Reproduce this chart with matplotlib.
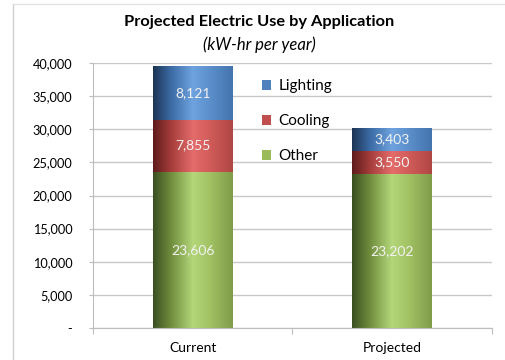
import numpy as np
import matplotlib.pyplot as plt
from matplotlib.colors import LinearSegmentedColormap
from matplotlib.patches import Patch

plt.rcParams['font.family'] = ['Lato', 'DejaVu Sans']

# stacked usage per scenario (kW-hr per year)
categories = ['Current', 'Projected']
other = [23606, 23202]
cooling = [7855, 3550]
lighting = [8121, 3403]

series = [('Other', other), ('Cooling', cooling), ('Lighting', lighting)]

# dark edge -> highlight -> mid tone, like a shaded cylinder
shades = {
    'Other':    ['#3a4f22', '#6f8c3c', '#b4d77a', '#a3c365', '#7f9c4a'],
    'Cooling':  ['#5e1b1b', '#a33c3a', '#e46c6a', '#d25d5a', '#b04644'],
    'Lighting': ['#1c3454', '#3b6aa3', '#6ea3df', '#5d90cc', '#4474ad'],
}
legend_col = {'Other': '#9bbb59', 'Cooling': '#c0504d', 'Lighting': '#4f81bd'}

fig = plt.figure(figsize=(5.06, 3.6), dpi=100)
ax = fig.add_axes([93 / 506, 1 - 328 / 360, (492 - 93) / 506, (328 - 63) / 360])

x = np.arange(len(categories))
width = 0.4
bottom = np.zeros(len(categories))
grad = np.linspace(0, 1, 256).reshape(1, -1)

for name, vals in series:
    vals = np.array(vals, dtype=float)
    cmap = LinearSegmentedColormap.from_list(
        name, list(zip([0, 0.22, 0.5, 0.7, 1.0], shades[name])))
    bars = ax.bar(x, vals, width, bottom=bottom, color='none', edgecolor='none')
    for b, v, b0 in zip(bars, vals, bottom):
        im = ax.imshow(grad, cmap=cmap, aspect='auto', zorder=2,
                       extent=[b.get_x(), b.get_x() + b.get_width(), b0, b0 + v])
        im.set_clip_path(b)
        ax.text(b.get_x() + b.get_width() / 2, b0 + v / 2, f'{int(v):,}',
                ha='center', va='center', color='#f2f2f2', fontsize=10, zorder=3)
    bottom += vals

ax.set_xlim(-0.5, len(categories) - 0.5)
ax.set_ylim(0, 40000)

yt = np.arange(0, 40001, 5000)
ax.set_yticks(yt)
ax.set_yticklabels(['-'] + [f'{v:,}' for v in yt[1:]])
ax.yaxis.grid(True, color='#c8c8c8', linewidth=1)
ax.set_axisbelow(True)

ax.set_xticks([-0.5, 0.5, 1.5])
ax.set_xticklabels([])
ax.set_xticks(x, minor=True)
ax.set_xticklabels(categories, minor=True)
ax.tick_params(axis='x', which='minor', length=0, pad=10, labelsize=10)
ax.tick_params(axis='x', which='major', length=4, color='#bdbdbd')
ax.tick_params(axis='y', length=3, color='#bdbdbd', pad=12, labelsize=9.2)

for s in ['top', 'right']:
    ax.spines[s].set_visible(False)
for s in ['left', 'bottom']:
    ax.spines[s].set_color('#bdbdbd')

handles = [Patch(facecolor=legend_col[n], label=n) for n in ['Lighting', 'Cooling', 'Other']]
fig.legend(handles=handles, loc='upper left', bbox_to_anchor=(256 / 506, 1 - 73 / 360),
           frameon=False, fontsize=11, handlelength=0.6, handleheight=0.6,
           handletextpad=0.45, labelspacing=1.38, borderaxespad=0)

fig.text(259 / 506, 1 - 22 / 360, 'Projected Electric Use by Application',
         ha='center', va='center', fontsize=11.8, fontweight='bold')
fig.text(259 / 506, 1 - 45 / 360, '(kW-hr per year)',
         ha='center', va='center', fontsize=12, style='italic')

# chart frame edges
fig.add_artist(plt.Line2D([13 / 506, 13 / 506], [0, 1 - 4 / 360], color='#cfcfcf', lw=1))
fig.add_artist(plt.Line2D([13 / 506, 1], [1 - 4 / 360, 1 - 4 / 360], color='#e3e3e3', lw=1))

fig.savefig('out.png', dpi=100)
